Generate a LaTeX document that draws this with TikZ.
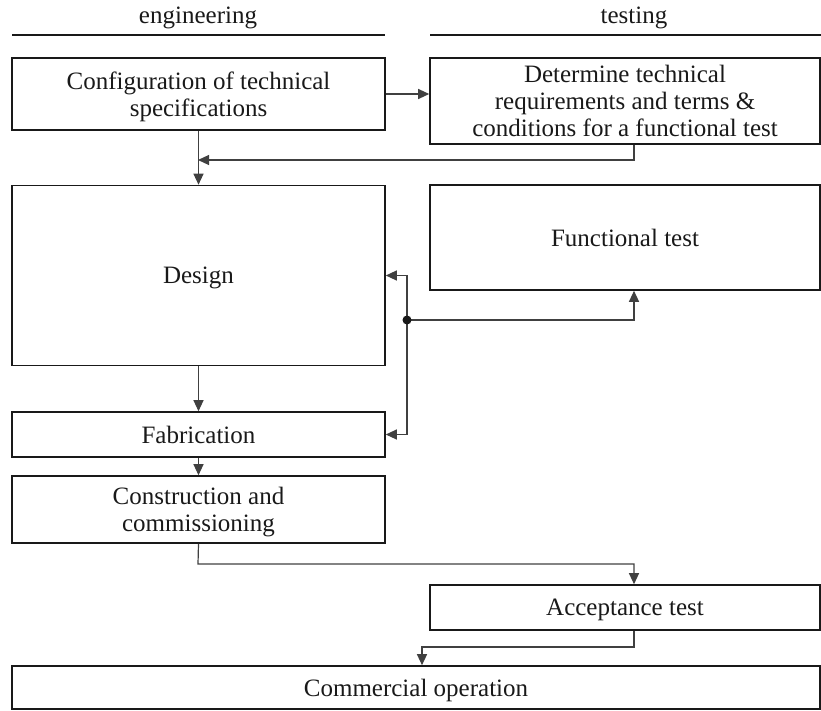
\documentclass[tikz,border=0pt]{standalone}
\usepackage{fontspec}
\setmainfont{Liberation Serif}
\usetikzlibrary{arrows.meta,calc}
\begin{document}
\begin{tikzpicture}[x=1pt,y=-1pt,
  box/.style={draw=black!90, line width=1.6pt, align=center, font=\fontsize{25}{27}\selectfont, inner sep=0pt, text=black!90, text depth=0pt},
  hdr/.style={font=\fontsize{25}{27}\selectfont, text=black!90},
  hline/.style={line width=1.6pt, black!90},
  conn/.style={line width=1.2pt, black!75},
  arr/.style={conn, -{Triangle[length=11pt,width=10pt]}}]
\useasboundingbox (0,0) rectangle (821,711);
% headers
\node[hdr] (eng) at (198,18) {engineering};
\node[hdr] (tst) at (634,18) {testing};
\draw[hline] (12,35) -- (385,35);
\draw[hline] (430,35) -- (821,35);
% boxes
\node[box, minimum width=373pt, minimum height=72pt] (conf) at (198.5,94) {Configuration of technical\\specifications};
\node[box, minimum width=390pt, minimum height=86pt] (det) at (625,101) {Determine technical\\requirements and terms \&\\conditions for a functional test};
\node[box, minimum width=373pt, minimum height=180pt] (design) at (198.5,275.5) {Design};
\node[box, minimum width=390pt, minimum height=105pt] (func) at (625,237.5) {Functional test};
\node[box, minimum width=373pt, minimum height=45pt] (fab) at (198.5,434.5) {Fabrication};
\node[box, minimum width=373pt, minimum height=67pt] (cons) at (198.5,509.5) {Construction and\\commissioning};
\node[box, minimum width=390pt, minimum height=45pt] (acc) at (625,607.5) {Acceptance test};
\node[box, minimum width=808pt, minimum height=43pt] (com) at (416,687.5) {Commercial operation};
% connectors
\coordinate (j1) at (198,160);
\coordinate (dot) at (407,320);
\coordinate (j2) at (198,564);
\coordinate (j3) at (422,647);
\draw[arr] (conf.east) -- (conf.east -| det.west);
\draw[arr] (det.south -| 634,0) |- (j1);
\draw[arr] (conf.south) -- (design.north);
\draw[arr] (dot) -| (func.south -| 634,0);
\draw[arr] (dot) |- (design.east);
\draw[arr] (dot) |- (fab.east);
\fill[black!90] (dot) circle (4.5pt);
\draw[arr] (design.south) -- (fab.north);
\draw[arr] (fab.south) -- (cons.north);
\draw[arr] (cons.south) -- (j2) -| (acc.north -| 634,0);
\draw[arr] (acc.south -| 634,0) |- (j3) -- (j3 |- com.north);
\end{tikzpicture}
\end{document}
